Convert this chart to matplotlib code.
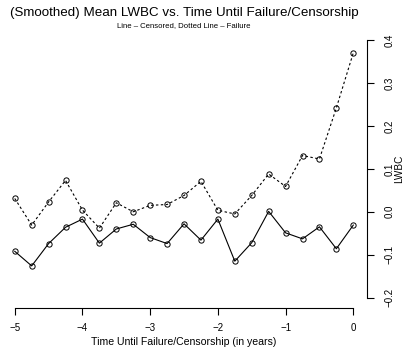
import numpy as np
import matplotlib
matplotlib.use("Agg")
import matplotlib.pyplot as plt

plt.rcParams['font.family'] = ['Liberation Sans', 'DejaVu Sans']

# time before failure / censorship, quarter-year steps
years = [-5.0, -4.75, -4.5, -4.25, -4.0, -3.75, -3.5, -3.25, -3.0, -2.75, -2.5,
         -2.25, -2.0, -1.75, -1.5, -1.25, -1.0, -0.75, -0.5, -0.25, 0.0]

# smoothed mean LWBC, censored subjects
censored = [-0.092, -0.126, -0.074, -0.036, -0.017, -0.073, -0.040, -0.029, -0.060,
            -0.074, -0.028, -0.066, -0.017, -0.115, -0.072, 0.001, -0.049, -0.063,
            -0.035, -0.086, -0.031]

# smoothed mean LWBC, failed subjects
failure = [0.031, -0.031, 0.023, 0.073, 0.004, -0.038, 0.021, 0.000, 0.015, 0.017,
           0.038, 0.071, 0.0035, -0.005, 0.038, 0.088, 0.059, 0.131, 0.123, 0.242,
           0.370]

x_ticks = [-5, -4, -3, -2, -1, 0]
y_ticks = [-0.2, -0.1, 0.0, 0.1, 0.2, 0.3, 0.4]

fig = plt.figure(figsize=(4.06, 3.52), dpi=100)
ax = fig.add_axes([0.003, 0.125, 0.9005, 0.7906])

ax.plot(years, censored, color='black', lw=0.8, marker='o', ms=3.8,
        mfc='none', mew=0.7)
ax.plot(years, failure, color='black', lw=0.8, ls=(0, (2.2, 2.2)), marker='o',
        ms=3.8, mfc='none', mew=0.7)

ax.set_xlim(-5.2, 0.2)
ax.set_ylim(-0.224, 0.424)

# R-style axes: only the tick range is drawn, y axis on the right
for side in ['left', 'top']:
    ax.spines[side].set_visible(False)
ax.spines['bottom'].set_bounds(-5, 0)
ax.spines['right'].set_bounds(-0.2, 0.4)
for side in ['bottom', 'right']:
    ax.spines[side].set_linewidth(0.8)

ax.set_xticks(x_ticks)
ax.set_xticklabels(['\u22125', '\u22124', '\u22123', '\u22122', '\u22121', '0'])
ax.set_yticks(y_ticks)
ax.set_yticklabels(['\u22120.2', '\u22120.1', '0.0', '0.1', '0.2', '0.3', '0.4'],
                   rotation=90, va='center')
ax.yaxis.tick_right()
ax.tick_params(axis='both', length=5, width=0.8, labelsize=7, colors='black')
ax.tick_params(axis='x', pad=6)
ax.tick_params(axis='y', pad=8)

ax.set_xlabel('Time Until Failure/Censorship (in years)', fontsize=7.6, labelpad=3)

# y label sits in the right margin, next to the rotated tick labels
fig.text(0.984, 0.52, 'LWBC', rotation=90, ha='center', va='center', fontsize=7.2)

fig.text(0.453, 0.964, '(Smoothed) Mean LWBC vs. Time Until Failure/Censorship',
         ha='center', va='center', fontsize=9.65)
fig.text(0.453, 0.927, 'Line \u2013 Censored, Dotted Line \u2013 Failure',
         ha='center', va='center', fontsize=5.6)

fig.savefig('out.png', dpi=100)
